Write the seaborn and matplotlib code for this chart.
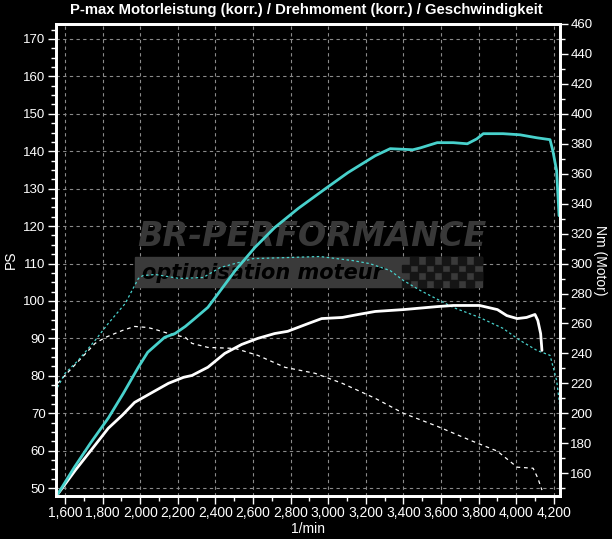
import matplotlib
matplotlib.use("Agg")
import matplotlib.pyplot as plt
import matplotlib.ticker as mticker
from matplotlib.patches import Rectangle
import seaborn as sns
import pandas as pd

# power after tuning (PS, left axis)
rpm_ps_tuned = [1560, 1650, 1735, 1830, 1910, 1990, 2040, 2130, 2185, 2240,
                2290, 2360, 2415, 2505, 2610, 2715, 2840, 2985, 3105, 3250,
                3330, 3450, 3490, 3580, 3665, 3740, 3790, 3825, 3930, 4020,
                4110, 4180, 4195, 4215, 4228]
ps_tuned = [48.3, 55.6, 62.0, 68.7, 75.3, 82.3, 86.3, 90.3, 91.3, 93.2,
            95.3, 98.3, 102.0, 108.1, 114.3, 119.6, 124.7, 130.0, 134.3, 138.8,
            140.7, 140.4, 140.9, 142.3, 142.3, 142.0, 143.3, 144.7, 144.7, 144.4,
            143.6, 143.1, 140.1, 134.8, 122.8]

# stock power (PS, left axis)
rpm_ps_stock = [1560, 1655, 1760, 1830, 1905, 1970, 2065, 2150, 2230, 2275,
                2360, 2450, 2540, 2625, 2715, 2785, 2895, 2965, 3075, 3160,
                3250, 3400, 3580, 3665, 3805, 3900, 3950, 4005, 4055, 4100,
                4115, 4130, 4137]
ps_stock = [48.3, 54.8, 61.5, 66.0, 69.5, 72.9, 75.6, 78.0, 79.6, 80.1,
            82.3, 86.0, 88.4, 90.0, 91.3, 91.9, 94.0, 95.3, 95.6, 96.4,
            97.2, 97.7, 98.5, 98.8, 98.8, 97.7, 96.1, 95.3, 95.6, 96.4,
            94.8, 91.3, 86.8]

# torque after tuning (Nm, right axis)
rpm_nm_tuned = [1560, 1600, 1670, 1760, 1830, 1920, 1990, 2015, 2080, 2210,
                2335, 2425, 2600, 2780, 2955, 3130, 3220, 3330, 3400, 3490,
                3665, 3805, 3930, 4020, 4110, 4180, 4215, 4233]
nm_tuned = [217.3, 226.7, 235.3, 248.7, 260.0, 273.3, 290.0, 292.0, 292.7, 290.0,
            290.7, 297.3, 303.3, 304.0, 304.7, 302.0, 300.0, 295.3, 288.7, 282.0,
            270.7, 264.0, 256.7, 248.7, 242.0, 238.7, 222.0, 204.0]

# stock torque (Nm, right axis)
rpm_nm_stock = [1560, 1615, 1690, 1760, 1815, 1905, 1970, 2040, 2080, 2150,
                2240, 2275, 2360, 2505, 2625, 2770, 2930, 3075, 3250, 3400,
                3580, 3755, 3900, 4005, 4090, 4115, 4137]
nm_stock = [220.0, 227.3, 237.3, 246.7, 250.7, 255.3, 258.0, 257.3, 256.0, 253.3,
            250.7, 246.7, 244.0, 243.3, 238.7, 230.7, 226.7, 220.0, 210.0, 200.0,
            191.3, 182.0, 174.7, 164.0, 163.3, 156.7, 148.7]

title = "P-max Motorleistung (korr.) / Drehmoment (korr.) / Geschwindigkeit"

CYAN = "#48D1CC"
W, H = 612, 539

sns.set_style("dark", {"axes.facecolor": "black", "figure.facecolor": "black",
                       "axes.edgecolor": "white", "text.color": "white",
                       "xtick.color": "white", "ytick.color": "white",
                       "axes.labelcolor": "white"})
plt.rcParams['font.family'] = ['Liberation Sans', 'DejaVu Sans']

fig = plt.figure(figsize=(W / 100, H / 100), dpi=100)
ax = fig.add_axes([56 / W, 43 / H, 504 / W, 472 / H])
ax2 = ax.twinx()

ps_lo, ps_hi = 47.9, 174.0
ax.set_xlim(1552, 4233)
ax.set_ylim(ps_lo, ps_hi)
ax2.set_ylim(ps_lo * 2.5 + 25, ps_hi * 2.5 + 25)


def px(x, y):
    return x / W, 1 - y / H


# watermark
ax.add_patch(Rectangle(px(135, 287), 347 / W, 30 / H, transform=fig.transFigure,
                       color="#3a3a3a", zorder=1))
for i in range(10):
    for j in range(4):
        if (i + j) % 2 == 0:
            ax.add_patch(Rectangle(px(402 + i * 8, 287 - j * 7.5), 8 / W, 7.5 / H,
                                   transform=fig.transFigure, color="#151515", zorder=1.1))
ax.text(*px(312, 237), "BR-PERFORMANCE", transform=fig.transFigure, ha="center",
        va="center", fontsize=24, fontweight="heavy", style="italic", color="#383838",
        family="DejaVu Sans", zorder=1.2)
ax.text(*px(142, 273), "optimisation moteur", transform=fig.transFigure, ha="left",
        va="center", fontsize=15, fontweight="bold", style="italic", color="black",
        family="DejaVu Sans", zorder=1.2)

# curves
df_nm_s = pd.DataFrame({"rpm": rpm_nm_stock, "val": nm_stock})
df_nm_t = pd.DataFrame({"rpm": rpm_nm_tuned, "val": nm_tuned})
df_ps_s = pd.DataFrame({"rpm": rpm_ps_stock, "val": ps_stock})
df_ps_t = pd.DataFrame({"rpm": rpm_ps_tuned, "val": ps_tuned})

sns.lineplot(data=df_nm_s, x="rpm", y="val", ax=ax2, color="white", linewidth=0.9,
             linestyle=(0, (3, 3)), estimator=None, sort=False)
sns.lineplot(data=df_nm_t, x="rpm", y="val", ax=ax2, color=CYAN, linewidth=0.9,
             linestyle=(0, (2, 2)), estimator=None, sort=False)
sns.lineplot(data=df_ps_s, x="rpm", y="val", ax=ax2, color="white", linewidth=2,
             estimator=None, sort=False, transform=ax.transData)
sns.lineplot(data=df_ps_t, x="rpm", y="val", ax=ax2, color=CYAN, linewidth=2,
             estimator=None, sort=False, transform=ax.transData)

# grid
ax.grid(True, which="major", color="#8a8a8a", linestyle=(0, (3, 3)), linewidth=0.8)
ax2.grid(False)

# ticks
fmt_k = mticker.FuncFormatter(lambda v, p: f"{v:,.0f}")
ax.xaxis.set_major_locator(mticker.MultipleLocator(200))
ax.xaxis.set_minor_locator(mticker.MultipleLocator(100))
ax.xaxis.set_major_formatter(fmt_k)
ax.yaxis.set_major_locator(mticker.MultipleLocator(10))
ax.yaxis.set_minor_locator(mticker.MultipleLocator(2.5))
ax2.yaxis.set_major_locator(mticker.MultipleLocator(20))
ax2.yaxis.set_minor_locator(mticker.MultipleLocator(10))

for a in (ax, ax2):
    a.tick_params(which="major", direction="out", length=6, width=1, colors="white",
                  labelsize=10, pad=1.5)
    a.tick_params(which="minor", direction="out", length=3.5, width=1, colors="white")
    for s in a.spines.values():
        s.set_color("white")
        s.set_linewidth(2)
        s.set_visible(True)
ax.tick_params(axis="y", which="both", left=True, labelsize=9.5)
ax.tick_params(axis="x", which="both", bottom=True)
ax2.tick_params(axis="y", which="both", right=True, labelsize=9.5)

ax.set_xlabel("1/min", fontsize=10, labelpad=1)
ax.set_ylabel("PS", fontsize=10)
ax2.set_ylabel("Nm (Motor)", fontsize=10, rotation=270)
ax.yaxis.set_label_coords((18 - 56) / 504, 0.5)
ax2.yaxis.set_label_coords((607 - 56) / 504, 0.5)

fig.text(0.5, 1 - 10 / H, title, ha="center", va="center", fontsize=10.7,
         fontweight="bold", color="white")

fig.savefig("out.png", dpi=100, facecolor="black")
